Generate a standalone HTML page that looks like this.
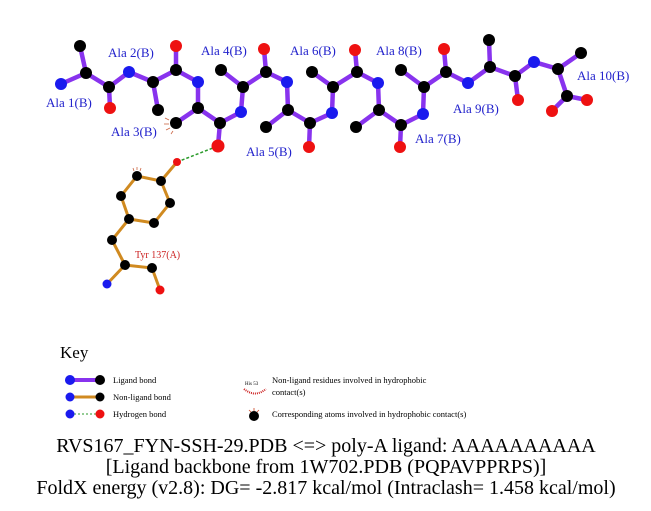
<!DOCTYPE html>
<html><head><meta charset="utf-8"><style>
html,body{margin:0;padding:0;background:#fff;}
svg{display:block;}
</style></head><body>
<svg width="651" height="511" viewBox="0 0 651 511" xmlns="http://www.w3.org/2000/svg">
<rect width="651" height="511" fill="#fff"/>
<g stroke="#8833ee" stroke-width="4.5" stroke-linecap="round" fill="none">
<polyline points="61,84 86,73 109,87 129,72 153,82 176,70 198,82 198,108 220,123 241,112 243,87 266,72 287,82 288,110 310,123 332,113 333,87 357,72 378,83 379,110 401,125 423,114 424,87 446,72 468,83 490,67 515,76 534,62 558,69 567,96 587,100"/>
<line x1="86" y1="73" x2="80" y2="46"/><line x1="109" y1="87" x2="110" y2="108"/>
<line x1="153" y1="82" x2="158" y2="110"/><line x1="176" y1="70" x2="176" y2="46"/>
<line x1="198" y1="108" x2="176" y2="123"/><line x1="220" y1="123" x2="218" y2="146"/>
<line x1="243" y1="87" x2="221" y2="70"/><line x1="266" y1="72" x2="264" y2="49"/>
<line x1="288" y1="110" x2="266" y2="127"/><line x1="310" y1="123" x2="309" y2="147"/>
<line x1="333" y1="87" x2="312" y2="72"/><line x1="357" y1="72" x2="355" y2="50"/>
<line x1="379" y1="110" x2="356" y2="127"/><line x1="401" y1="125" x2="400" y2="147"/>
<line x1="424" y1="87" x2="401" y2="70"/><line x1="446" y1="72" x2="444" y2="49"/>
<line x1="490" y1="67" x2="489" y2="40"/><line x1="515" y1="76" x2="518" y2="100"/>
<line x1="558" y1="69" x2="581" y2="53"/><line x1="567" y1="96" x2="552" y2="111"/>
</g>
<g stroke="#d08a20" stroke-width="3" stroke-linecap="round" fill="none">
<polygon points="161,181 137,176 121,196 129,219 154,223 170,203"/>
<line x1="161" y1="181" x2="177" y2="162"/>
<polyline points="129,219 112,240 125,265 107,284"/>
<polyline points="125,265 152,268 160,290"/>
</g>
<line x1="177" y1="162" x2="218" y2="146" stroke="#2a9a2a" stroke-width="1.5" stroke-dasharray="3,2"/>
<g fill="#000">
<circle cx="86" cy="73" r="6"/><circle cx="80" cy="46" r="6"/><circle cx="109" cy="87" r="6"/>
<circle cx="153" cy="82" r="6"/><circle cx="158" cy="110" r="6"/><circle cx="176" cy="70" r="6"/>
<circle cx="198" cy="108" r="6"/><circle cx="176" cy="123" r="6"/><circle cx="220" cy="123" r="6"/>
<circle cx="243" cy="87" r="6"/><circle cx="221" cy="70" r="6"/><circle cx="266" cy="72" r="6"/>
<circle cx="288" cy="110" r="6"/><circle cx="266" cy="127" r="6"/><circle cx="310" cy="123" r="6"/>
<circle cx="333" cy="87" r="6"/><circle cx="312" cy="72" r="6"/><circle cx="357" cy="72" r="6"/>
<circle cx="379" cy="110" r="6"/><circle cx="356" cy="127" r="6"/><circle cx="401" cy="125" r="6"/>
<circle cx="424" cy="87" r="6"/><circle cx="401" cy="70" r="6"/><circle cx="446" cy="72" r="6"/>
<circle cx="490" cy="67" r="6"/><circle cx="489" cy="40" r="6"/><circle cx="515" cy="76" r="6"/>
<circle cx="558" cy="69" r="6"/><circle cx="581" cy="53" r="6"/><circle cx="567" cy="96" r="6"/>
<circle cx="161" cy="181" r="5"/><circle cx="137" cy="176" r="5"/><circle cx="121" cy="196" r="5"/>
<circle cx="129" cy="219" r="5"/><circle cx="154" cy="223" r="5"/><circle cx="170" cy="203" r="5"/>
<circle cx="112" cy="240" r="5"/><circle cx="125" cy="265" r="5"/><circle cx="152" cy="268" r="5"/>
</g>
<g fill="#1a1aee">
<circle cx="61" cy="84" r="6"/><circle cx="129" cy="72" r="6"/><circle cx="198" cy="82" r="6"/>
<circle cx="241" cy="112" r="6"/><circle cx="287" cy="82" r="6"/><circle cx="332" cy="113" r="6"/>
<circle cx="378" cy="83" r="6"/><circle cx="423" cy="114" r="6"/><circle cx="468" cy="83" r="6"/>
<circle cx="534" cy="62" r="6"/><circle cx="107" cy="284" r="4.5"/>
</g>
<g fill="#ee1111">
<circle cx="110" cy="108" r="6"/><circle cx="176" cy="46" r="6"/><circle cx="218" cy="146" r="6.5"/>
<circle cx="264" cy="49" r="6"/><circle cx="309" cy="147" r="6"/><circle cx="355" cy="50" r="6"/>
<circle cx="400" cy="147" r="6"/><circle cx="444" cy="49" r="6"/><circle cx="518" cy="100" r="6"/>
<circle cx="587" cy="100" r="6"/><circle cx="552" cy="111" r="6"/>
<circle cx="177" cy="162" r="4"/><circle cx="160" cy="290" r="4.5"/>
</g>
<g stroke="#cc6644" stroke-width="0.8">
<line x1="169" y1="120" x2="165" y2="118"/><line x1="169" y1="124" x2="164" y2="124"/><line x1="170" y1="128" x2="166" y2="130"/><line x1="173" y1="131" x2="171" y2="134"/>
<line x1="134" y1="171" x2="133" y2="168"/><line x1="137" y1="170" x2="137" y2="167"/><line x1="140" y1="171" x2="141" y2="168"/>
</g>
<g font-family="Liberation Serif, serif" font-size="13" fill="#2222cc">
<text x="46" y="107">Ala 1(B)</text>
<text x="108" y="57">Ala 2(B)</text>
<text x="111" y="136">Ala 3(B)</text>
<text x="201" y="55">Ala 4(B)</text>
<text x="246" y="156">Ala 5(B)</text>
<text x="290" y="55">Ala 6(B)</text>
<text x="415" y="143">Ala 7(B)</text>
<text x="376" y="55">Ala 8(B)</text>
<text x="453" y="113">Ala 9(B)</text>
<text x="577" y="80">Ala 10(B)</text>
</g>
<text x="135" y="258" font-family="Liberation Serif, serif" font-size="10" fill="#cc2222">Tyr 137(A)</text>
<text x="60" y="358" font-family="Liberation Serif, serif" font-size="17" fill="#000">Key</text>
<line x1="70" y1="380" x2="100" y2="380" stroke="#8833ee" stroke-width="4"/>
<circle cx="70" cy="380" r="5" fill="#1a1aee"/><circle cx="100" cy="380" r="5" fill="#000"/>
<line x1="70" y1="397" x2="100" y2="397" stroke="#d08a20" stroke-width="3"/>
<circle cx="70" cy="397" r="4.5" fill="#1a1aee"/><circle cx="100" cy="397" r="4.5" fill="#000"/>
<line x1="70" y1="414" x2="100" y2="414" stroke="#2a9a2a" stroke-width="1" stroke-dasharray="2,2"/>
<circle cx="70" cy="414" r="4.5" fill="#1a1aee"/><circle cx="100" cy="414" r="4.5" fill="#ee1111"/>
<g font-family="Liberation Serif, serif" font-size="8.5" fill="#000">
<text x="113" y="383">Ligand bond</text>
<text x="113" y="400">Non-ligand bond</text>
<text x="113" y="417">Hydrogen bond</text>
<text x="272" y="383">Non-ligand residues involved in hydrophobic</text>
<text x="272" y="395">contact(s)</text>
<text x="272" y="417">Corresponding atoms involved in hydrophobic contact(s)</text>
<text x="245" y="385" font-size="5">His 53</text>
</g>
<path d="M244,389 Q255,398 266,389" stroke="#cc2222" stroke-width="2" fill="none" stroke-dasharray="1,1"/>
<circle cx="254" cy="416" r="5" fill="#000"/>
<path d="M249,410 L251,412 M254,408 L254,411 M259,410 L257,412" stroke="#cc4422" stroke-width="0.8"/>
<g font-family="Liberation Serif, serif" font-size="20" fill="#000" text-anchor="middle">
<text x="326" y="452">RVS167_FYN-SSH-29.PDB &lt;=&gt; poly-A ligand: AAAAAAAAAA</text>
<text x="326" y="473">[Ligand backbone from 1W702.PDB (PQPAVPPRPS)]</text>
<text x="326" y="494">FoldX energy (v2.8): DG= -2.817 kcal/mol (Intraclash= 1.458 kcal/mol)</text>
</g>
</svg>
</body></html>
